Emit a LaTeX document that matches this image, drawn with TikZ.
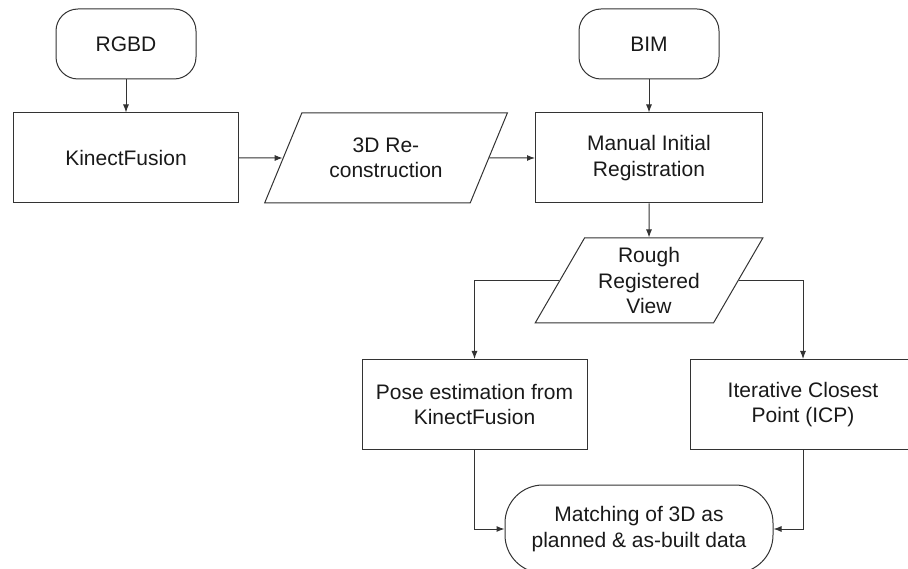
\documentclass[tikz,border=0pt]{standalone}
\usepackage{fontspec}
\setmainfont{Liberation Sans}
\usetikzlibrary{shapes.geometric,arrows.meta}

\tikzset{
	box/.style={draw, minimum width=225pt, minimum height=90pt, align=center},
	terminal/.style={draw, rounded corners=22pt, minimum width=140pt, minimum height=70pt, align=center},
	datanode/.style={draw, trapezium, trapezium left angle=62, trapezium right angle=118,
		trapezium stretches, align=center, inner xsep=0pt},
}

\begin{document}
\begin{tikzpicture}[x=1pt, y=-1pt, line width=1pt, draw=black!80, text=black!90,
		>={Latex[length=8pt,width=6pt]},
		font=\fontsize{21}{25.5}\selectfont]
	\useasboundingbox (0, 0) rectangle (908, 569);
	\clip (0, 0) rectangle (908, 569);

	\node[terminal] (rgbd) at (126, 44) {RGBD};
	\node[terminal] (bim) at (649, 44) {BIM};

	\node[box] (kf) at (126, 158) {KinectFusion};
	\node[datanode, minimum width=243pt, minimum height=90pt] (recon) at (386, 158) {3D Re-\\construction};
	\node[box, minimum width=227pt] (manual) at (649, 158) {Manual Initial\\Registration};

	\node[datanode, minimum width=228pt, minimum height=85pt] (rough) at (649, 280.5) {Rough\\Registered\\View};

	\node[box] (pose) at (474.5, 404.5) {Pose estimation from\\KinectFusion};
	\node[box, minimum width=226pt] (icp) at (803, 404.5) {Iterative Closest\\Point (ICP)};

	\node[terminal, rounded corners=38pt, minimum width=268pt, minimum height=88pt] (match) at (639, 529)
		{Matching of 3D as\\planned \& as-built data};

	\draw[->] (rgbd) -- (kf);
	\draw[->] (bim) -- (manual);
	\draw[->] (kf) -- (recon);
	\draw[->] (recon) -- (manual);
	\draw[->] (manual) -- (rough);
	\draw[->] (rough) -| (pose);
	\draw[->] (rough) -| (icp);
	\draw[->] (pose) |- (match);
	\draw[->] (icp) |- (match);
\end{tikzpicture}
\end{document}
